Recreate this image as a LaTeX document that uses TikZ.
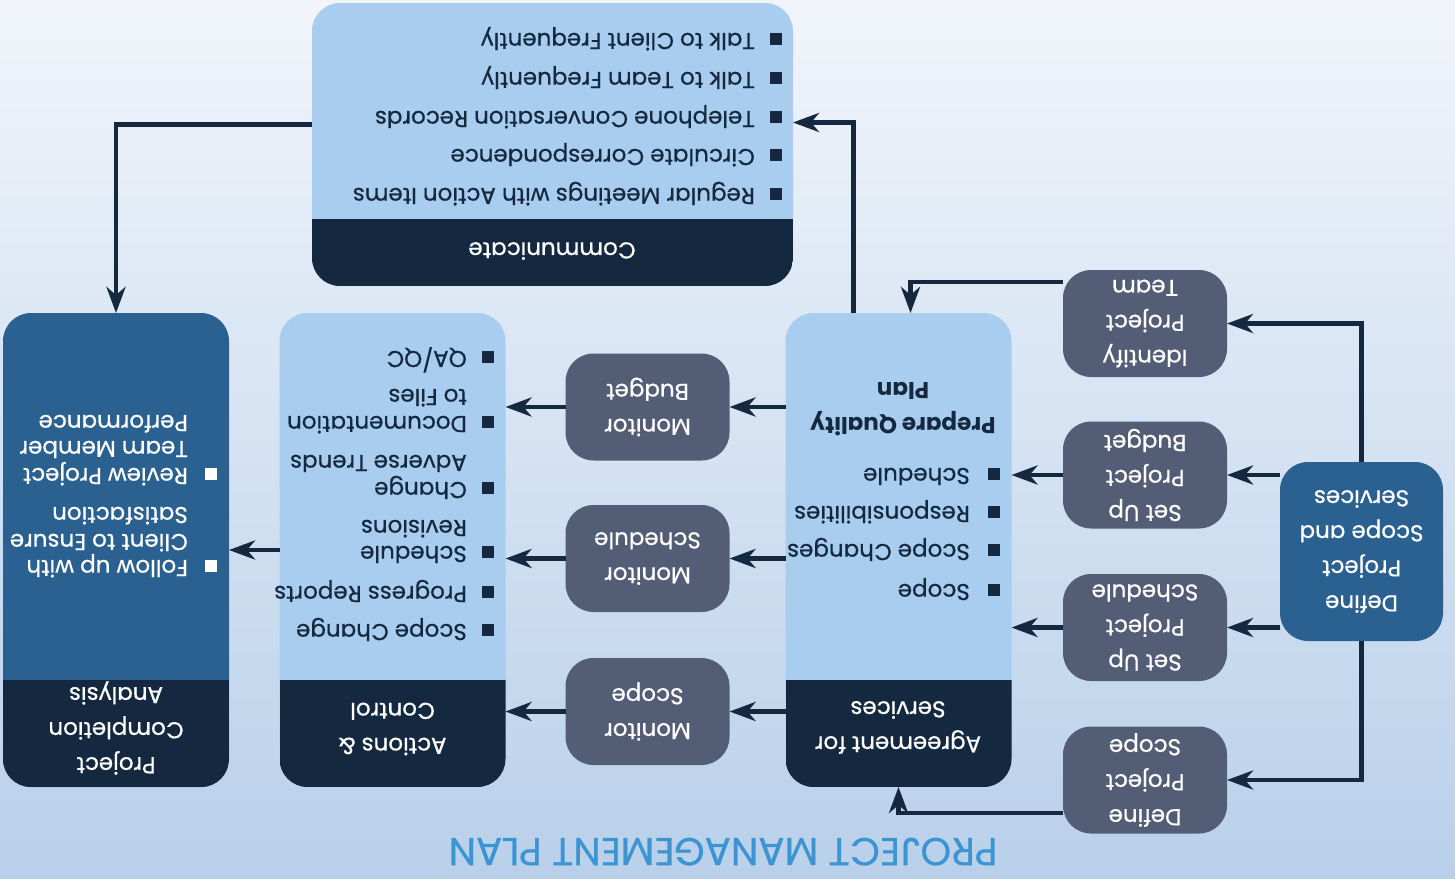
\documentclass[tikz,border=0pt]{standalone}
\usepackage{fontspec}
\setmainfont{Poppins}[UprightFeatures={FakeBold=0.6}]
\usetikzlibrary{arrows.meta}
\definecolor{navy}{HTML}{14293F}
\definecolor{pale}{HTML}{A9CDEE}
\definecolor{steel}{HTML}{2B6190}
\definecolor{slate}{HTML}{535E76}
\definecolor{ttl}{HTML}{3C94D2}
\definecolor{bgtop}{HTML}{F1F5FB}
\definecolor{bgbot}{HTML}{B9D0EA}
\begin{document}
\begin{tikzpicture}[x=1pt, y=-1pt,
    every node/.append style={font=\fontsize{23}{35}\selectfont},
    box/.style={rounded corners=28pt, inner sep=0pt, outer sep=0pt, align=center, text=white},
    tall/.style={box, fill=pale, minimum width=226pt, minimum height=474pt},
    small/.style={box, fill=slate, minimum width=164pt, minimum height=107pt},
    head/.style={text=white, align=center},
    itm/.style={anchor=base west, inner sep=0pt, text=navy},
    arr/.style={draw=navy, line width=4.8pt, -{Stealth[length=26pt, width=19pt, inset=8pt]}}]
  \shade[top color=bgtop, bottom color=bgbot] (0,0) rectangle (1455,878);
  \begin{scope}[rotate around={180:(727.5,439)}, transform shape]
    \node[text=ttl, font=\fontsize{39}{42}\selectfont, anchor=base] (title) at (732,40) {PROJECT MANAGEMENT PLAN};
    \node[box, fill=steel, minimum width=163pt, minimum height=179pt] (dpss) at (93.5,326.5) {Define\\Project\\Scope and\\Services};
    \node[small] (scope) at (310,98) {Define\\Project\\Scope};
    \node[small] (sched) at (310,250.5) {Set Up\\Project\\Schedule};
    \node[small] (budget) at (310,403) {Set Up\\Project\\Budget};
    \node[small] (team) at (310,554.5) {Identify\\Project\\Team};
    \node[tall] (agree) at (556.5,328) {};
    \node[small] (monscope) at (807.5,166.5) {Monitor\\Scope};
    \node[small] (monsched) at (807.5,319.5) {Monitor\\Schedule};
    \node[small] (monbudget) at (807.5,471) {Monitor\\Budget};
    \node[tall] (act) at (1062.5,328) {};
    \node[tall, fill=steel] (pca) at (1339,328) {};
    \node[box, fill=pale, minimum width=481pt, minimum height=283pt] (comm) at (902.5,733.5) {};
    \foreach \nm/\h in {agree/107, act/107, pca/107, comm/67}{
      \begin{scope}
        \clip[rounded corners=28pt] (\nm.south west) rectangle (\nm.north east);
        \fill[navy] (\nm.north west) rectangle ([yshift=-\h pt]\nm.north east);
      \end{scope}}
    \node[head] (pca-h) at (1339,150) {Project\\Completion\\Analysis};
    \node[head] (act-h) at (1062.5,149) {Actions \&\\Control};
    \node[head] (agree-h) at (557,150.5) {Agreement for\\Services};
    \node[head] (comm-h) at (903,627) {Communicate};
    \node[text=navy, align=center, font=\fontsize{23}{35}\selectfont\bfseries] (quality) at (552,469) {Prepare Quality\\Plan};
    \foreach \y/\t in {690/Regular Meetings with Action Items, 729/Circulate Correspondence, 767/Telephone Conversation Records, 806/Talk to Team Frequently, 845/Talk to Client Frequently}{
      \node[itm] (comm-\y) at (700,\y) {\t};
      \fill[navy] (673,\y) rectangle ++(12,-12);}
    \foreach \y/\t in {294/Scope, 334/Scope Changes, 372/Responsibilities, 410/Schedule}{
      \node[itm] (agree-\y) at (485,\y) {\t};
      \fill[navy] (455,\y) rectangle ++(12,-12);}
    \foreach \y/\t in {254/Scope Change, 292/Progress Reports, 332/Schedule, 358/Revisions, 396/Change, 423/Adverse Trends, 462/Documentation, 489/to Files, 527/{QA/QC}}
      \node[itm] (act-\y) at (988,\y) {\t};
    \foreach \y in {254,292,332,396,462,527}
      \fill[navy] (961,\y) rectangle ++(12,-12);
    \foreach \y/\t in {318/Follow up with, 344/Client to Ensure, 371/Satisfaction, 410/Review Project, 437/Team Member, 463/Performance}
      \node[itm, text=white] (pca-\y) at (1267,\y) {\t};
    \foreach \y in {318,410}
      \fill[white] (1238,\y) rectangle ++(12,-12);
    \draw[arr] (sched.west -| dpss.east) -- (sched.west);
    \draw[arr] (budget.west -| dpss.east) -- (budget.west);
    \draw[arr] (dpss.north) |- (scope.west);
    \draw[arr] (dpss.south) |- (team.west);
    \draw[arr] ([yshift=33pt]scope.east) -| (agree.north);
    \draw[arr] (sched.east) -- (sched.east -| agree.west);
    \draw[arr] (budget.east) -- (budget.east -| agree.west);
    \draw[arr] ([yshift=-41.5pt]team.east) -| ([xshift=-12pt]agree.south);
    \draw[arr] ([xshift=45pt]agree.south) |- ([yshift=-22pt]comm.west);
    \foreach \nm in {monscope, monsched, monbudget}{
      \draw[arr] (\nm.west -| agree.east) -- (\nm.west);
      \draw[arr] (\nm.east) -- (\nm.east -| act.west);}
    \draw[arr] (act.east) -- (pca.west);
    \draw[arr] ([yshift=-20pt]comm.east) -| (pca.south);
  \end{scope}
\end{tikzpicture}
\end{document}
